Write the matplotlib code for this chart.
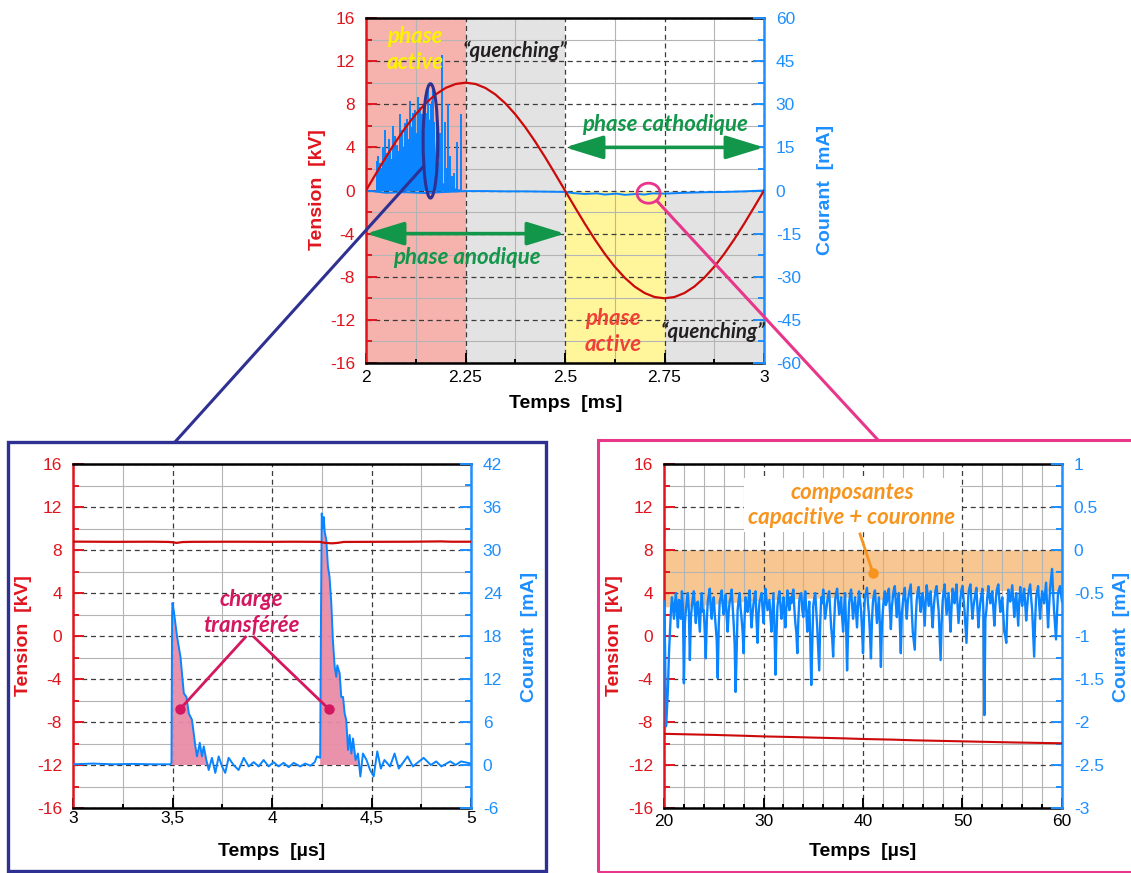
import numpy as np
import matplotlib
matplotlib.use("Agg")
import matplotlib.pyplot as plt
from matplotlib.patches import Ellipse, Rectangle
from matplotlib.lines import Line2D
from matplotlib.ticker import MultipleLocator

plt.rcParams['font.family'] = ['Liberation Sans', 'DejaVu Sans']
plt.rcParams['axes.unicode_minus'] = False

# ------------------------------------------------------------------ data
# --- top panel : one period of applied voltage (kV) vs time (ms)
t_top = np.linspace(2.0, 3.0, 41)
v_top = [0.00, 1.56, 3.09, 4.54, 5.88, 7.07, 8.09, 8.91, 9.51, 9.88, 10.00,
         9.88, 9.51, 8.91, 8.09, 7.07, 5.88, 4.54, 3.09, 1.56, 0.00,
         -1.56, -3.09, -4.54, -5.88, -7.07, -8.09, -8.91, -9.51, -9.88, -10.00,
         -9.88, -9.51, -8.91, -8.09, -7.07, -5.88, -4.54, -3.09, -1.56, 0.00]
# current baseline (mA)
t_top_base = [2.00, 2.02, 2.05, 2.10, 2.15, 2.20, 2.25, 2.30, 2.35, 2.40, 2.45,
              2.50, 2.52, 2.55, 2.58, 2.60, 2.63, 2.65, 2.68, 2.70, 2.72, 2.75,
              2.80, 2.85, 2.90, 2.95, 3.00]
i_top_base = [0.0, -0.3, -0.8, -0.6, -0.9, -0.5, -0.2, -0.2, -0.3, -0.3, -0.4,
              -0.5, -0.9, -1.2, -1.0, -1.4, -1.1, -1.5, -1.2, -1.4, -1.0, -1.1,
              -0.8, -0.6, -0.5, -0.3, 0.0]
# individual discharge spikes (time ms, peak mA)
t_spk = [2.0285, 2.031, 2.035, 2.038, 2.043, 2.048, 2.053, 2.057, 2.060, 2.064,
         2.069, 2.074, 2.079, 2.082, 2.085, 2.090, 2.094, 2.098, 2.104, 2.107,
         2.111, 2.116, 2.119, 2.123, 2.127, 2.131, 2.135, 2.140, 2.144, 2.148,
         2.152, 2.157, 2.160, 2.163, 2.166, 2.169, 2.172, 2.178, 2.182, 2.186,
         2.190, 2.198, 2.203, 2.207, 2.211, 2.215, 2.220, 2.228, 2.238]
i_spk = [10.4, 12.0, 9.5, 8.0, 15.0, 20.9, 13.0, 18.0, 14.0, 11.0,
         22.6, 19.0, 16.0, 12.0, 26.7, 21.0, 15.0, 23.5, 25.0, 18.0,
         31.3, 22.0, 27.0, 28.0, 20.0, 32.5, 29.0, 26.7, 24.0, 32.0,
         27.0, 35.4, 22.0, 30.0, 31.0, 35.0, 24.0, 27.0, 10.0, 20.0,
         47.0, 24.0, 8.0, 30.0, 12.0, 5.0, 6.0, 16.8, 26.7]
# dense envelope of micro-discharges (mA)
t_env = [2.025, 2.027, 2.04, 2.05, 2.06, 2.07, 2.08, 2.09, 2.10, 2.11, 2.12,
         2.13, 2.14, 2.15, 2.16, 2.17, 2.175, 2.18, 2.20, 2.22, 2.235, 2.24]
i_env = [0.0, 7.0, 8.0, 10.0, 9.0, 12.0, 14.0, 13.0, 17.0, 16.0, 20.0,
         19.0, 22.0, 24.0, 25.0, 22.0, 12.0, 4.0, 2.0, 1.0, 0.5, 0.0]

# --- bottom-left panel : zoom on two discharges (time in µs)
t_bl_v = [3.0, 3.2, 3.4, 3.48, 3.5, 3.52, 3.55, 3.6, 3.8, 4.0, 4.1, 4.24, 4.26,
          4.3, 4.33, 4.36, 4.5, 4.7, 4.85, 4.9, 5.0]
v_bl = [8.78, 8.76, 8.77, 8.75, 8.72, 8.66, 8.74, 8.76, 8.77, 8.76, 8.77, 8.76,
        8.68, 8.62, 8.66, 8.75, 8.76, 8.77, 8.80, 8.77, 8.77]
t_bl = [3.000, 3.100, 3.200, 3.300, 3.400, 3.490, 3.495, 3.498, 3.500, 3.507,
        3.523, 3.540, 3.557, 3.570, 3.582, 3.598, 3.615, 3.623, 3.637, 3.648,
        3.657, 3.670, 3.682, 3.698, 3.715, 3.732, 3.749, 3.765, 3.782, 3.807,
        3.832, 3.858, 3.883, 3.908, 3.933, 3.958, 3.983, 4.008, 4.033, 4.058,
        4.084, 4.109, 4.142, 4.167, 4.193, 4.215, 4.226, 4.242, 4.246, 4.250,
        4.255, 4.260, 4.265, 4.273, 4.281, 4.289, 4.298, 4.306, 4.315, 4.323,
        4.328, 4.340, 4.348, 4.357, 4.365, 4.373, 4.382, 4.390, 4.399, 4.407,
        4.420, 4.432, 4.444, 4.457, 4.475, 4.493, 4.511, 4.529, 4.547, 4.565,
        4.593, 4.616, 4.637, 4.681, 4.708, 4.762, 4.798, 4.825, 4.851, 4.896,
        4.923, 4.950, 5.000]
i_bl = [0.1, 0.2, 0.1, 0.15, 0.1, 0.1, 0.3, 21.0, 22.6, 21.4,
        17.9, 15.1, 10.0, 9.5, 7.2, 6.3, 2.6, 1.2, 3.1, 1.2,
        2.6, 0.7, -0.7, 1.0, -1.1, 1.2, -0.2, -1.1, 1.0, 0.0,
        -0.7, 1.0, -0.2, 0.4, -0.2, 0.7, -0.2, 0.4, -0.2, 0.3,
        -0.3, 0.3, -0.2, 0.2, -0.1, 0.4, 1.2, 1.0, 20.0, 35.1,
        33.0, 34.6, 32.5, 31.4, 27.7, 26.3, 22.6, 17.4, 13.7, 12.3,
        13.9, 12.8, 9.5, 9.5, 7.2, 6.3, 2.1, 4.2, 1.6, 3.7,
        0.7, 1.6, -1.6, 1.6, 0.7, -0.7, -1.6, 1.9, -0.5, 0.7,
        -0.2, 1.6, -0.5, 1.2, -0.2, 1.0, 0.0, 0.5, -0.2, 0.5,
        0.0, 0.5, 0.2]

# --- bottom-right panel : capacitive + corona current (time in µs, 0.1 µs step)
t_br = np.linspace(20, 60, 401)
i_br = [
    -0.60, -1.10, -2.05, -1.85, -1.60, -1.20, -0.95, -0.70, -0.55, -0.68,
    -0.80, -0.62, -0.50, -0.75, -0.90, -0.58, -0.62, -0.80, -0.48, -0.66,
    -1.55, -0.85, -0.70, -0.58, -0.50, -0.72, -1.28, -0.80, -0.65, -0.55,
    -0.48, -0.70, -0.85, -0.62, -0.60, -0.78, -0.95, -0.66, -0.50, -0.72,
    -0.70, -0.95, -1.26, -0.82, -0.60, -0.52, -0.45, -0.68, -0.80, -0.62,
    -0.55, -0.74, -0.90, -1.05, -1.49, -0.88, -0.60, -0.55, -0.47, -0.64,
    -0.75, -0.60, -0.52, -0.78, -0.95, -0.72, -0.60, -0.55, -0.46, -0.66,
    -0.85, -1.10, -1.65, -1.20, -0.70, -0.58, -0.50, -0.68, -0.80, -0.95,
    -1.20, -0.80, -0.55, -0.66, -0.72, -0.58, -0.47, -0.70, -0.90, -0.74,
    -0.62, -0.54, -0.48, -0.82, -1.08, -0.75, -0.60, -0.56, -0.50, -0.68,
    -0.85, -0.62, -0.45, -0.58, -0.70, -0.64, -0.58, -0.78, -0.95, -0.72,
    -0.50, -0.90, -1.45, -1.00, -0.66, -0.55, -0.48, -0.64, -0.80, -0.70,
    -0.55, -0.74, -0.90, -0.66, -0.47, -0.60, -0.70, -0.55, -0.62, -0.52,
    -0.46, -0.68, -0.85, -0.96, -1.20, -0.82, -0.58, -0.52, -0.50, -0.70,
    -0.78, -0.60, -0.48, -0.72, -0.95, -0.76, -0.60, -1.05, -1.57, -1.10,
    -0.65, -0.56, -0.50, -0.70, -0.90, -1.15, -1.40, -0.85, -0.55, -0.62,
    -0.46, -0.64, -0.80, -0.70, -0.60, -0.52, -0.48, -0.68, -0.90, -1.02,
    -1.24, -0.85, -0.58, -0.50, -0.45, -0.60, -0.75, -0.66, -0.55, -0.78,
    -0.95, -0.70, -0.50, -0.88, -1.40, -0.95, -0.62, -0.52, -0.46, -0.63,
    -0.80, -0.66, -0.55, -0.72, -0.90, -0.64, -0.48, -0.58, -0.70, -0.92,
    -1.20, -0.78, -0.52, -0.50, -0.44, -0.62, -0.75, -0.98, -1.26, -0.82,
    -0.60, -0.52, -0.47, -0.66, -0.85, -0.70, -0.55, -0.90, -1.36, -0.88,
    -0.70, -0.56, -0.48, -0.64, -0.60, -0.50, -0.45, -0.70, -0.92, -0.66,
    -0.55, -0.46, -0.42, -0.62, -0.78, -0.58, -0.50, -0.86, -1.20, -0.74,
    -0.62, -0.50, -0.44, -0.64, -0.80, -0.60, -0.52, -0.46, -0.40, -0.70,
    -0.95, -1.05, -1.16, -0.80, -0.58, -0.48, -0.43, -0.60, -0.72, -0.55,
    -0.50, -0.70, -0.88, -0.60, -0.41, -0.52, -0.65, -0.56, -0.48, -0.72,
    -0.90, -0.68, -0.55, -0.46, -0.42, -0.58, -0.70, -1.00, -1.28, -0.86,
    -0.60, -0.48, -0.40, -0.58, -0.75, -0.62, -0.50, -0.74, -0.95, -0.66,
    -0.45, -0.52, -0.62, -0.50, -0.40, -0.64, -0.85, -0.70, -0.55, -0.46,
    -0.42, -0.56, -0.70, -0.88, -1.08, -0.76, -0.50, -0.44, -0.40, -0.62,
    -0.80, -0.66, -0.58, -0.50, -0.44, -0.68, -0.90, -0.72, -0.60, -0.52,
    -0.45, -0.70, -1.92, -0.80, -0.70, -0.54, -0.42, -0.52, -0.62, -0.56,
    -0.48, -0.68, -0.88, -0.66, -0.50, -0.44, -0.40, -0.58, -0.72, -0.62,
    -0.55, -0.74, -0.95, -1.00, -1.08, -0.70, -0.46, -0.52, -0.60, -0.50,
    -0.41, -0.58, -0.78, -0.62, -0.50, -0.70, -0.88, -0.60, -0.43, -0.56,
    -0.65, -0.52, -0.45, -0.62, -0.82, -0.66, -0.52, -0.46, -0.40, -0.56,
    -0.70, -0.96, -1.24, -0.82, -0.55, -0.48, -0.42, -0.62, -0.80, -0.60,
    -0.48, -0.56, -0.62, -0.50, -0.38, -0.64, -0.90, -0.66, -0.45, -0.34,
    -0.22, -0.48, -0.70, -0.88, -1.04, -0.74, -0.50, -0.46, -0.42, -0.52,
    -0.60]
t_br_v = [20, 22, 25, 28, 30, 33, 35, 38, 40, 43, 45, 48, 50, 53, 55, 58, 60]
v_br = [-9.10, -9.14, -9.20, -9.28, -9.34, -9.40, -9.45, -9.52, -9.58, -9.64,
        -9.70, -9.76, -9.80, -9.86, -9.90, -9.95, -9.98]
t_band = [20, 22, 24, 26, 28, 30, 32, 34, 36, 38, 40, 42, 44, 46, 48, 50, 52,
          54, 56, 58, 60]
i_band_low = [-0.66, -0.66, -0.64, -0.62, -0.60, -0.58, -0.57, -0.56, -0.56,
              -0.55, -0.55, -0.58, -0.52, -0.50, -0.49, -0.49, -0.48, -0.47,
              -0.47, -0.48, -0.47]

# ------------------------------------------------------------------ style
RED_LINE = '#cc0a0a'
RED_AX = '#e0161e'
BLUE = '#0a84ff'
BLUE_AX = '#1e8fff'
PINK_SPAN = '#f6b2ad'
GRAY_SPAN = '#e2e3e2'
YELLOW_SPAN = '#fff69c'
GREEN = '#11964a'
DARKBLUE = '#2e3192'
MAGENTA = '#e8378a'
CRIMSON = '#d4175e'
CHARGE_FILL = '#e98ca8'
ORANGE_TXT = '#f7941d'
ORANGE_BAND = '#f8c690'
ANNOT_FONT = ['Lato', 'Open Sans', 'DejaVu Sans']

W, H = 1131, 873
fig = plt.figure(figsize=(W / 100, H / 100), dpi=100)
fig.patch.set_facecolor('white')


def fx(x):
    return x / W


def fy(y):
    return 1 - y / H


def box(x0, y0, x1, y1):
    return [x0 / W, 1 - y1 / H, (x1 - x0) / W, (y1 - y0) / H]


def panel(rect, xlim, xmaj, xminor, xlabels, rlim, rmaj, rminor, rlabels, xpad):
    ax = fig.add_axes(box(*rect))
    ax.set_xlim(*xlim)
    ax.set_ylim(-16, 16)
    ax.set_xticks(xmaj)
    ax.set_xticklabels(xlabels)
    ax.xaxis.set_minor_locator(MultipleLocator(xminor))
    yt = list(range(-16, 17, 4))
    ax.set_yticks(yt)
    ax.set_yticklabels([str(v) for v in yt])
    ax.yaxis.set_minor_locator(MultipleLocator(2))
    ax.set_axisbelow(True)
    ax.grid(which='major', ls=(0, (4, 3)), color='#3c3c3c', lw=0.9)
    # thin solid minor grid
    for v in ax.xaxis.get_minorticklocs():
        if xlim[0] < v < xlim[1]:
            ax.axvline(v, color='#b4b4b4', lw=0.8, zorder=0.4)
    for v in ax.yaxis.get_minorticklocs():
        if -16 < v < 16:
            ax.axhline(v, color='#b4b4b4', lw=0.8, zorder=0.4)
    ax.tick_params(axis='y', which='both', direction='in', colors=RED_AX,
                   labelsize=12.5, pad=8, width=1.4)
    ax.tick_params(axis='y', which='major', length=8)
    ax.tick_params(axis='y', which='minor', length=4)
    ax.tick_params(axis='x', which='both', direction='in', color='black',
                   labelcolor='black', labelsize=12.5, pad=xpad, width=1.4)
    ax.tick_params(axis='x', which='major', length=7)
    ax.tick_params(axis='x', which='minor', length=3)
    for s in ('top', 'bottom'):
        ax.spines[s].set_color('black')
        ax.spines[s].set_linewidth(1.8)
    ax.spines['left'].set_color(RED_AX)
    ax.spines['left'].set_linewidth(1.8)
    ax.spines['right'].set_visible(False)

    axr = ax.twinx()
    axr.set_ylim(*rlim)
    axr.set_yticks(rmaj)
    axr.set_yticklabels(rlabels)
    axr.yaxis.set_minor_locator(MultipleLocator(rminor))
    axr.tick_params(axis='y', which='both', direction='in', colors=BLUE_AX,
                    labelsize=12.5, pad=8.5, width=1.4)
    axr.tick_params(axis='y', which='major', length=8)
    axr.tick_params(axis='y', which='minor', length=4)
    for s in ('left', 'top', 'bottom'):
        axr.spines[s].set_visible(False)
    axr.spines['right'].set_color(BLUE_AX)
    axr.spines['right'].set_linewidth(1.8)

    axv = ax.twinx()
    axv.set_ylim(-16, 16)
    axv.set_axis_off()
    return ax, axr, axv


def label(x, y, s, color, rot=0):
    fig.text(fx(x), fy(y), s, color=color, fontsize=14, fontweight='bold',
             rotation=rot, ha='center', va='center')


def annot(axis, x, y, s, color, size=16, **kw):
    axis.text(x, y, s, color=color, fontsize=size, fontweight='bold',
              fontstyle='italic', family=ANNOT_FONT, ha='center', va='center',
              **kw)


# ------------------------------------------------------------------ top panel
ax, axr, axv = panel((366, 18, 764, 363), (2, 3), [2, 2.25, 2.5, 2.75, 3], 0.125,
                     ['2', '2.25', '2.5', '2.75', '3'], (-60, 60),
                     list(range(-60, 61, 15)), 7.5,
                     [str(v) for v in range(-60, 61, 15)], 5)
ax.axvspan(2.0, 2.25, color=PINK_SPAN, lw=0, zorder=0.2)
ax.axvspan(2.25, 2.5, color=GRAY_SPAN, lw=0, zorder=0.2)
ax.axvspan(2.5, 2.75, ymin=0, ymax=0.5, color=YELLOW_SPAN, lw=0, zorder=0.2)
ax.axvspan(2.75, 3.0, ymin=0, ymax=0.5, color=GRAY_SPAN, lw=0, zorder=0.2)

axr.fill_between(t_env, 0, i_env, color=BLUE, lw=0)
axr.vlines(t_spk, 0, i_spk, color=BLUE, lw=1.4)
axr.plot(t_top_base, i_top_base, color=BLUE, lw=1.4)
axv.plot(t_top, v_top, color=RED_LINE, lw=1.6)

annot(axv, 2.123, 13.1, 'phase\nactive', '#fff200', linespacing=1.32)
annot(axv, 2.374, 13.0, '\u201cquenching\u201d', '#231f20', size=14.8)
annot(axv, 2.751, 6.1, 'phase cathodique', GREEN)
annot(axv, 2.254, -6.2, 'phase anodique', GREEN)
annot(axv, 2.62, -13.1, 'phase\nactive', '#ef4136', linespacing=1.32)
annot(axv, 2.872, -13.1, '\u201cquenching\u201d', '#231f20', size=14.8)
arrow_kw = dict(arrowstyle='<|-|>,head_length=1.3,head_width=0.4', color=GREEN,
                lw=2.6, mutation_scale=18, shrinkA=0, shrinkB=0)
axv.annotate('', xy=(3.0, 4), xytext=(2.5, 4), arrowprops=arrow_kw)
axv.annotate('', xy=(2.5, -4), xytext=(2.0, -4), arrowprops=arrow_kw)

axv.add_patch(Ellipse((2.162, 4.6), 0.037, 10.6, fill=False, ec=DARKBLUE,
                      lw=2.2, zorder=5, clip_on=False))
axv.add_patch(Ellipse((2.71, -0.25), 0.058, 1.86, fill=False, ec=MAGENTA,
                      lw=2.0, zorder=5, clip_on=False))

label(318, 190, 'Tension  [kV]', RED_AX, 90)
label(825, 190, 'Courant  [mA]', BLUE_AX, 90)
label(566, 404, 'Temps  [ms]', 'black')

# ------------------------------------------------------------------ bottom-left
bx, bxr, bxv = panel((73, 464, 471, 808), (3, 5), [3, 3.5, 4, 4.5, 5], 0.25,
                     ['3', '3,5', '4', '4,5', '5'], (-6, 42),
                     list(range(-6, 43, 6)), 3,
                     [str(v) for v in range(-6, 43, 6)], 2)
i_bl_arr = np.array(i_bl)
t_bl_arr = np.array(t_bl)
m1 = (t_bl_arr >= 3.495) & (t_bl_arr <= 3.690)
m2 = (t_bl_arr >= 4.242) & (t_bl_arr <= 4.445)
bxr.fill_between(t_bl_arr, 0, np.clip(i_bl_arr, 0, None), where=m1 | m2,
                 color=CHARGE_FILL, lw=0, alpha=0.95, zorder=1)
bxr.plot(t_bl, i_bl, color=BLUE, lw=1.4, zorder=2)
bxv.plot(t_bl_v, v_bl, color=RED_LINE, lw=1.6)

annot(bxv, 3.895, 2.2, 'charge\ntransférée', CRIMSON, size=16, linespacing=1.3)
bxv.plot([3.867, 3.538], [-0.1, -6.8], color=CRIMSON, lw=2.0, zorder=6)
bxv.plot([3.910, 4.286], [-0.1, -6.8], color=CRIMSON, lw=2.0, zorder=6)
bxv.plot([3.538, 4.286], [-6.8, -6.8], ls='none', marker='o', ms=6.5,
         color=CRIMSON, zorder=7)

label(24, 636, 'Tension  [kV]', RED_AX, 90)
label(530, 637, 'Courant  [mA]', BLUE_AX, 90)
label(272, 852, 'Temps  [µs]', 'black')

# ------------------------------------------------------------------ bottom-right
cx, cxr, cxv = panel((664, 464, 1062, 808), (20, 60), [20, 30, 40, 50, 60], 2,
                     ['20', '30', '40', '50', '60'], (-3, 1),
                     [-3, -2.5, -2, -1.5, -1, -0.5, 0, 0.5, 1], 0.25,
                     ['-3', '-2.5', '-2', '-1.5', '-1', '-0.5', '0', '0.5', '1'], 4)
rlo, rhi = -3.0, 1.0


def ma_to_kv(v):
    return -16 + (np.asarray(v) - rlo) / (rhi - rlo) * 32


cx.fill_between(t_band, ma_to_kv(0.0), ma_to_kv(i_band_low), color=ORANGE_BAND,
                lw=0, zorder=0.2)
cxr.plot(t_br, i_br, color=BLUE, lw=1.7)
cxv.plot(t_br_v, v_br, color=RED_LINE, lw=1.5)
annot(cxv, 38.9, 12.2, 'composantes\ncapacitive + couronne', ORANGE_TXT,
      size=16, linespacing=1.2,
      bbox=dict(facecolor='white', edgecolor='none', pad=3))
cxv.plot([39.7, 41.0], [9.49, 5.86], color=ORANGE_TXT, lw=2.0, zorder=6)
cxv.plot([41.0], [5.86], ls='none', marker='o', ms=6.5, color=ORANGE_TXT,
         zorder=7)

label(614, 636, 'Tension  [kV]', RED_AX, 90)
label(1122, 637, 'Courant  [mA]', BLUE_AX, 90)
label(863, 852, 'Temps  [µs]', 'black')

# ------------------------------------------------------------------ frames & links
fig.add_artist(Rectangle((fx(8), fy(871)), fx(546) - fx(8), fy(442) - fy(871),
                         transform=fig.transFigure, fill=False, ec=DARKBLUE,
                         lw=2.4))
fig.add_artist(Rectangle((fx(598), fy(872)), fx(1140) - fx(598), fy(440) - fy(872),
                         transform=fig.transFigure, fill=False, ec=MAGENTA,
                         lw=2.2))
fig.add_artist(Line2D([fx(423), fx(175)], [fy(167), fy(442)],
                      transform=fig.transFigure, color=DARKBLUE, lw=2.2))
fig.add_artist(Line2D([fx(657), fx(878)], [fy(201), fy(440)],
                      transform=fig.transFigure, color=MAGENTA, lw=2.2))

fig.savefig('out.png', dpi=100, facecolor='white')
